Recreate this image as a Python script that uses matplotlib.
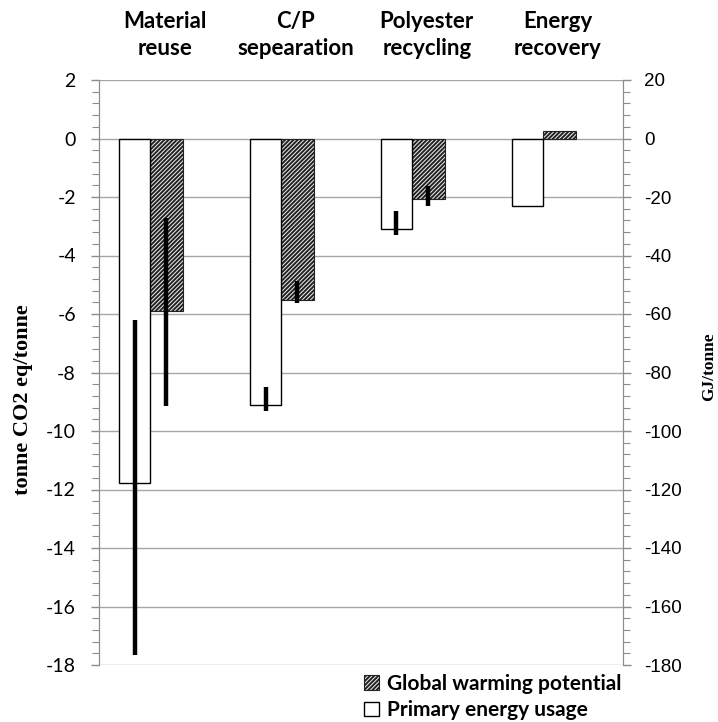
import numpy as np
import matplotlib
matplotlib.use('Agg')
import matplotlib.pyplot as plt
from matplotlib.ticker import MultipleLocator
from matplotlib.patches import Patch

plt.rcParams['axes.unicode_minus'] = False
plt.rcParams['hatch.linewidth'] = 1.4

# Categories and values
categories = ["Material\nreuse", "C/P\nsepearation", "Polyester\nrecycling", "Energy\nrecovery"]

# Global warming potential (tonne CO2 eq/tonne), left axis
gwp = [-5.91, -5.53, -2.08, 0.26]
gwp_low = [-9.16, -5.62, -2.32]
gwp_high = [-2.72, -4.88, -1.61]

# Primary energy usage (GJ/tonne), right axis
pe = [-117.7, -91.1, -30.8, -23.0]
pe_low = [-176.7, -93.3, -33.0]
pe_high = [-61.9, -85.1, -24.7]

W, H = 718, 722
fig = plt.figure(figsize=(W / 100, H / 100), dpi=100)
ax = fig.add_axes([99.5 / W, 1 - 665 / H, (623.3 - 99.5) / W, (665 - 80) / H])
ax2 = ax.twinx()

x = np.arange(len(categories))
x_pe = x - 0.232
x_gwp = x + 0.010

HATCH = '////////'

# gridlines
ax.set_axisbelow(True)
ax.yaxis.grid(True, color='#a6a6a6', linewidth=1.0)

# hatched bars (left axis)
ax.bar(x_gwp, gwp, width=0.252, color='#efefef', edgecolor='#222222',
       hatch=HATCH, linewidth=0.8, zorder=2)
n = len(gwp_low)
ax.errorbar(x_gwp[:n], gwp[:n],
            yerr=[np.array(gwp[:n]) - np.array(gwp_low), np.array(gwp_high) - np.array(gwp[:n])],
            fmt='none', ecolor='black', elinewidth=3.2, capsize=0, zorder=3)

# white bars (right axis)
ax2.bar(x_pe, pe, width=0.233, color='white', edgecolor='black', linewidth=1.0, zorder=2)
n = len(pe_low)
ax2.errorbar(x_pe[:n], pe[:n],
             yerr=[np.array(pe[:n]) - np.array(pe_low), np.array(pe_high) - np.array(pe[:n])],
             fmt='none', ecolor='black', elinewidth=3.2, capsize=0, zorder=3)

ax.set_xlim(-0.5, 3.5)
ax.set_ylim(-18, 2)
ax2.set_ylim(-180, 20)

ax.yaxis.set_major_locator(MultipleLocator(2))
ax.yaxis.set_minor_locator(MultipleLocator(0.4))
ax2.yaxis.set_major_locator(MultipleLocator(20))
ax2.yaxis.set_minor_locator(MultipleLocator(4))

for a in (ax, ax2):
    for s in ('top', 'bottom'):
        a.spines[s].set_visible(False)
    a.spines['left'].set_color('#8c8c8c')
    a.spines['right'].set_color('#8c8c8c')
    a.tick_params(axis='x', bottom=False, labelbottom=False)
    a.tick_params(axis='y', which='both', direction='out', color='#8c8c8c')
    a.tick_params(axis='y', which='major', length=6, width=1)
    a.tick_params(axis='y', which='minor', length=5, width=0.8)
ax.tick_params(axis='y', which='major', pad=11)
ax2.tick_params(axis='y', which='major', pad=9)

for lab in ax.get_yticklabels():
    lab.set_fontfamily('Lato')
    lab.set_fontsize(14)
for lab in ax2.get_yticklabels():
    lab.set_fontfamily('Liberation Sans')
    lab.set_fontsize(13.5)

# category labels on top
for i, c in enumerate(categories):
    ax.text(i, 1 + 45 / 585, c, transform=ax.get_xaxis_transform(),
            ha='center', va='center', fontsize=16, fontweight='bold',
            family='Lato', linespacing=1.4)

# axis titles
fig.text(23 / W, 1 - 400 / H, 'tonne CO2 eq/tonne', rotation=90, ha='center', va='center',
         family='Liberation Serif', fontweight='bold', fontsize=16)
fig.text(709 / W, 1 - 367 / H, 'GJ/tonne', rotation=90, ha='center', va='center',
         family='Liberation Serif', fontweight='bold', fontsize=12.5)

handles = [Patch(facecolor='#efefef', edgecolor='#222222', hatch=HATCH, linewidth=0.8),
           Patch(facecolor='white', edgecolor='black', linewidth=1.0)]
fig.legend(handles, ['Global warming potential', 'Primary energy usage'],
           loc='upper left', bbox_to_anchor=(364 / W, 1 - 674 / H), frameon=False,
           prop={'family': 'Lato', 'weight': 'bold', 'size': 15},
           handlelength=0.7, handleheight=0.7, handletextpad=0.4,
           labelspacing=0.3, borderpad=0, borderaxespad=0)

fig.savefig('out.png', dpi=100)
